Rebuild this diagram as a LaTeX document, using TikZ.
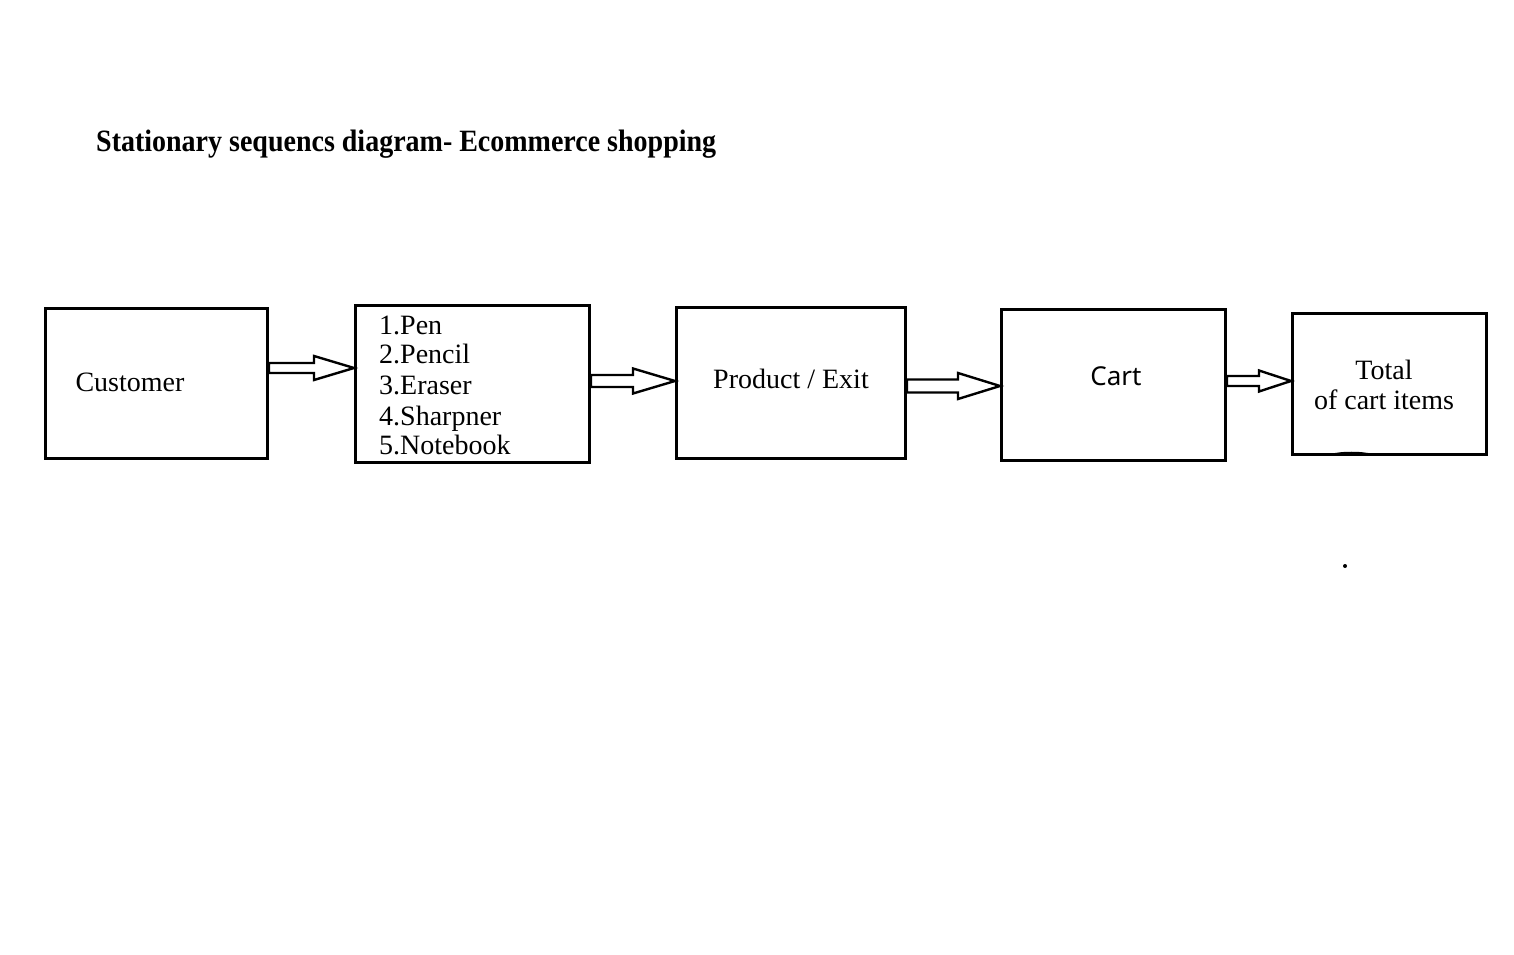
\documentclass[tikz,border=0pt]{standalone}
\usepackage{fontspec}
\setmainfont{Liberation Serif}
\newfontfamily\cartfont{Noto Sans}
\usetikzlibrary{calc}
\tikzset{
  box/.style={draw=black, line width=3pt, inner sep=0pt, fill=none},
  fatarrow/.style={draw=black, line width=2.4pt, fill=white, line join=miter},
  lbl/.style={inner sep=0pt, font=\fontsize{28}{30}\selectfont},
}
\newcommand{\fatarr}[6]{%
  \draw[fatarrow] let \p1=(#1.east), \p2=(#2.west) in
    (\x1,#3-#4) -- (\x2-#6,#3-#4) -- (\x2-#6,#3-#5) -- (\x2,#3)
    -- (\x2-#6,#3+#5) -- (\x2-#6,#3+#4) -- (\x1,#3+#4) -- cycle;}
\begin{document}
\begin{tikzpicture}[x=1pt,y=1pt]
\useasboundingbox[fill=white] (0,0) rectangle (1514,954);
% title
\node[inner sep=0pt, anchor=base west] (title) at (96,{954-152})
  {\fontsize{31}{33}\selectfont\bfseries\scalebox{0.903}[1]{Stationary sequencs diagram- Ecommerce shopping}};
% boxes
\node[box, minimum width=222pt, minimum height=150pt] (cust)  at (156.5,{954-383.5}) {};
\node[box, minimum width=234pt, minimum height=157pt] (items) at (472.5,{954-384}) {};
\node[box, minimum width=229pt, minimum height=151pt] (prod)  at (791,{954-383}) {};
\node[box, minimum width=224pt, minimum height=151pt] (cart)  at (1113.5,{954-385}) {};
\node[box, minimum width=194pt, minimum height=141pt] (total) at (1389.5,{954-384}) {};
% texts
\node[lbl] (custT) at (130,{954-382}) {Customer};
\node[lbl, anchor=base west] (i1) at (379,{954-335}) {1.Pen};
\node[lbl, anchor=base west] (i2) at (379,{954-364}) {2.Pencil};
\node[lbl, anchor=base west] (i3) at (379,{954-395}) {3.Eraser};
\node[lbl, anchor=base west] (i4) at (379,{954-426}) {4.Sharpner};
\node[lbl, anchor=base west] (i5) at (379,{954-455}) {5.Notebook};
\node[lbl] (prodT) at (791,{954-379}) {Product / Exit};
\node[inner sep=0pt, font=\cartfont\fontsize{26}{28}\selectfont] (cartT) at (1116,{954-376}) {Cart};
\node[lbl, anchor=base] (totT1) at (1384,{954-380}) {Total};
\node[lbl, anchor=base] (totT2) at (1384,{954-410}) {of cart items};
% arrows
\fatarr{cust}{items}{954-368}{5}{12}{40}
\fatarr{items}{prod}{954-381}{6}{12.5}{42}
\fatarr{prod}{cart}{954-386}{6.5}{13}{42}
\fatarr{cart}{total}{954-381}{5}{10.5}{32}
% small mark under Total box
\coordinate (m1) at (1331,{954-455});
\coordinate (m2) at (1372,{954-455});
\draw[line width=2pt, line cap=round] (m1) .. controls (1340,{954-452}) and (1363,{954-452}) .. (m2);
% dot
\node[circle, fill=black, inner sep=0pt, minimum size=4pt] (dot) at (1345,{954-566}) {};
\end{tikzpicture}
\end{document}
